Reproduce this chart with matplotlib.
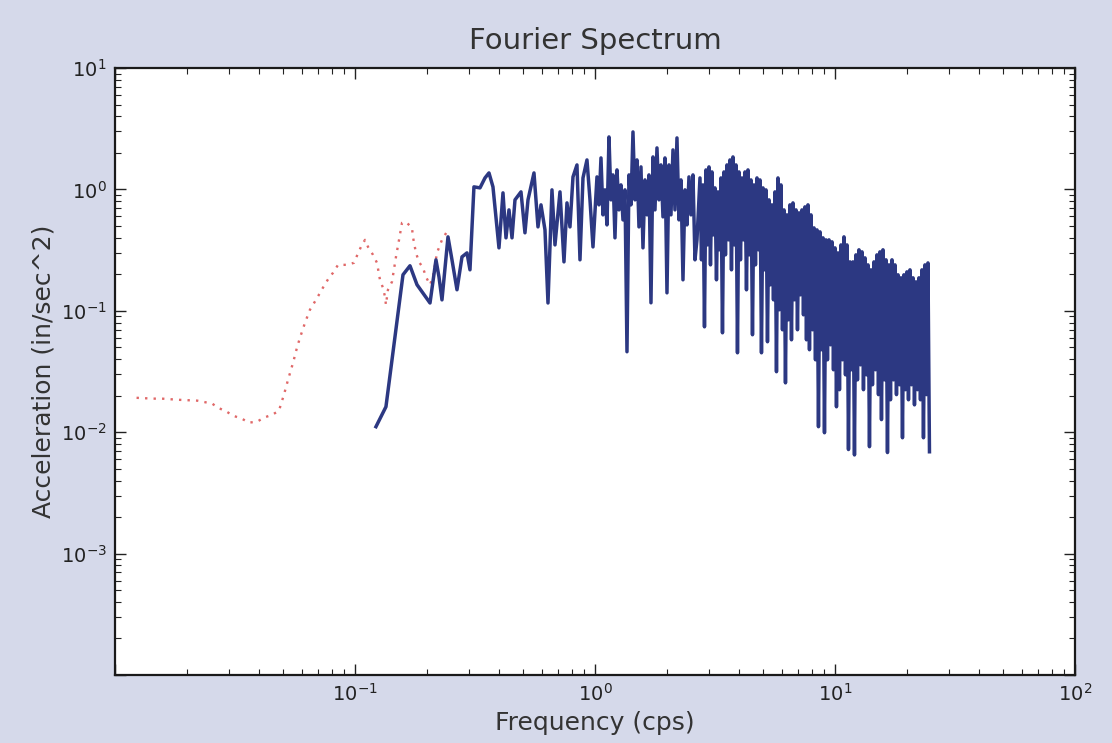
import matplotlib
matplotlib.use('Agg')
import matplotlib.pyplot as plt
from matplotlib.ticker import LogLocator, NullFormatter

# Smoothed (red dotted) spectrum
red_freq = [0.0123, 0.0144, 0.0157, 0.0183, 0.0220, 0.0254, 0.0269, 0.0293, 0.0310, 0.0338,
            0.0362, 0.0391, 0.0418, 0.0451, 0.0482, 0.0506, 0.0526, 0.0552, 0.0573, 0.0590,
            0.0619, 0.0649, 0.0688, 0.0715, 0.0743, 0.0779, 0.0810, 0.0850, 0.0926, 0.0990,
            0.1019, 0.1059, 0.1101, 0.1133, 0.1189, 0.1235, 0.1271, 0.1308, 0.1334, 0.1346,
            0.1372, 0.1426, 0.1482, 0.1526, 0.1570, 0.1631, 0.1728, 0.1744, 0.1795, 0.1848,
            0.1920, 0.1976, 0.2054, 0.2113, 0.2196, 0.2304, 0.2441]
red_amp = [0.0192, 0.0189, 0.0189, 0.0185, 0.0182, 0.0172, 0.0159, 0.0147, 0.0137, 0.0129,
           0.0120, 0.0122, 0.0132, 0.0139, 0.0150, 0.0204, 0.0270, 0.0373, 0.0496, 0.0600,
           0.0796, 0.1019, 0.1232, 0.1406, 0.1606, 0.1869, 0.2055, 0.2391, 0.2391, 0.2484,
           0.2836, 0.3363, 0.3840, 0.3363, 0.2890, 0.2484, 0.1800, 0.1546, 0.1304, 0.1121,
           0.1489, 0.1732, 0.2782, 0.3840, 0.530, 0.540, 0.482, 0.4065, 0.300, 0.253,
           0.226, 0.1905, 0.1637, 0.1905, 0.300, 0.384, 0.464]

# Raw Fourier amplitude spectrum (blue), low-frequency part
blue_freq_low = [0.1223, 0.1346, 0.1585, 0.1695, 0.1813, 0.2054, 0.2175, 0.2239, 0.2304, 0.2441,
                 0.2536, 0.2661, 0.2792, 0.2929, 0.3014, 0.3131, 0.3318, 0.3481, 0.3617, 0.3758,
                 0.3981, 0.4137, 0.4258, 0.4382, 0.4511, 0.4642, 0.4917, 0.5108, 0.5259, 0.5570,
                 0.5788, 0.5957, 0.6190, 0.6371, 0.6619, 0.6813, 0.7148, 0.7427, 0.7644, 0.7867,
                 0.8098, 0.8414, 0.8660, 0.8913, 0.9261, 0.9532, 0.9810]
blue_amp_low = [0.0111, 0.0162, 0.198, 0.235, 0.164, 0.116, 0.263, 0.190, 0.123, 0.4065,
                0.263, 0.149, 0.278, 0.300, 0.2175, 1.049, 1.029, 1.243, 1.367, 1.049,
                0.330, 0.936, 0.399, 0.678, 0.399, 0.820, 0.954, 0.439, 0.820, 1.367,
                0.491, 0.746, 0.464, 0.116, 0.991, 0.349, 0.954, 0.253, 0.774, 0.491,
                1.267, 1.591, 0.263, 1.243, 1.749, 0.820, 0.336]

# mid part (1 - 2.7 cps)
blue_freq_mid = [1.0194, 1.0391, 1.0593, 1.0798, 1.1007, 1.1220, 1.1438, 1.1659, 1.1885, 1.2115,
                 1.2350, 1.2589, 1.2833, 1.3082, 1.3335, 1.3594, 1.3857, 1.4125, 1.4399, 1.4678,
                 1.4962, 1.5252, 1.5548, 1.5849, 1.6156, 1.6469, 1.6788, 1.7113, 1.7445, 1.7783,
                 1.8127, 1.8478, 1.8836, 1.9201, 1.9573, 1.9953, 2.0339, 2.0733, 2.1135, 2.1544,
                 2.1961, 2.2387, 2.2820, 2.3263, 2.3714, 2.4173, 2.4641, 2.5119, 2.5605, 2.6102,
                 2.6607]
blue_amp_mid = [1.267, 0.746, 1.816, 0.617, 0.991, 0.510, 2.704, 0.820, 1.316, 0.399,
                1.447, 0.678, 1.089, 0.561, 0.991, 0.046, 1.316, 0.746, 2.973, 0.820,
                1.749, 0.491, 1.532, 0.330, 1.197, 0.617, 1.316, 0.1164, 1.851, 0.678,
                2.196, 0.820, 1.591, 0.594, 1.816, 0.1406, 1.591, 0.617, 2.114, 0.678,
                2.654, 0.561, 1.197, 0.180, 0.991, 0.510, 1.267, 0.617, 1.316, 0.263,
                0.384]

# high part (2.7 - 25 cps)
blue_freq_high = [2.7384, 2.7781,
                  2.8184, 2.8593, 2.9007, 2.9427, 2.9854, 3.0287, 3.0726, 3.1171,
                  3.1623, 3.2081, 3.2546, 3.3018, 3.3497, 3.3982, 3.4475, 3.4974,
                  3.5481, 3.5996, 3.6517, 3.7046, 3.7584, 3.8128, 3.8681, 3.9241,
                  3.9811, 4.0388, 4.0973, 4.1567, 4.2170, 4.2781, 4.3401, 4.4030,
                  4.4668, 4.5316, 4.5972, 4.6639, 4.7315, 4.8000, 4.8696, 4.9402,
                  5.0119, 5.0845, 5.1582, 5.2330, 5.3088, 5.3858, 5.4638, 5.5430,
                  5.6234, 5.7049, 5.7876, 5.8715, 5.9566, 6.0429, 6.1305, 6.2193,
                  6.3096, 6.4011, 6.4938, 6.5880, 6.6834, 6.7803, 6.8786, 6.9783,
                  7.0795, 7.1821, 7.2862, 7.3918, 7.4989, 7.6076, 7.7179, 7.8297,
                  7.9433, 8.0585, 8.1753, 8.2937, 8.4140, 8.5359, 8.6596, 8.7852,
                  8.9125, 9.0417, 9.1728, 9.3057, 9.4406, 9.5774, 9.7162, 9.8571,
                  10.000, 10.145, 10.292, 10.441, 10.593, 10.746, 10.902, 11.060,
                  11.220, 11.383, 11.548, 11.715, 11.885, 12.057, 12.232, 12.409,
                  12.589, 12.772, 12.957, 13.144, 13.335, 13.528, 13.724, 13.923,
                  14.125, 14.330, 14.538, 14.748, 14.962, 15.179, 15.399, 15.622,
                  15.849, 16.079, 16.312, 16.548, 16.788, 17.032, 17.278, 17.529,
                  17.783, 18.041, 18.302, 18.568, 18.837, 19.110, 19.387, 19.668,
                  19.953, 20.242, 20.535, 20.833, 21.135, 21.441, 21.752, 22.067,
                  22.387, 22.711, 23.040, 23.374, 23.713, 24.057, 24.405, 24.759]
blue_amp_high = [1.243, 0.263,
                 1.089, 0.0738, 1.447, 0.349, 1.532, 0.239, 1.393, 0.422,
                 1.029, 0.180, 0.954, 0.318, 1.243, 0.0659, 1.393, 0.289,
                 1.591, 0.384, 1.749, 0.2175, 1.851, 0.349, 1.591, 0.0451,
                 1.393, 0.263, 1.243, 0.384, 1.393, 0.1489, 1.447, 0.289,
                 1.197, 0.0635, 1.089, 0.239, 1.243, 0.318, 1.197, 0.0451,
                 1.029, 0.2175, 0.991, 0.0556, 0.820, 0.1637, 0.746, 0.1232,
                 0.954, 0.0315, 1.243, 0.102, 1.089, 0.0698, 0.678, 0.0255,
                 0.617, 0.0843, 0.746, 0.0577, 0.774, 0.1232, 0.678, 0.0698,
                 0.641, 0.1354, 0.678, 0.0927, 0.718, 0.0577, 0.746, 0.0478,
                 0.617, 0.0698, 0.482, 0.0395, 0.464, 0.0111, 0.447, 0.0478,
                 0.399, 0.0099, 0.384, 0.0395, 0.384, 0.0525, 0.370, 0.0327,
                 0.330, 0.0162, 0.300, 0.0224, 0.349, 0.0395, 0.4065, 0.0297,
                 0.349, 0.0072, 0.253, 0.0327, 0.253, 0.0065, 0.289, 0.0270,
                 0.318, 0.0359, 0.306, 0.0224, 0.273, 0.0297, 0.239, 0.0076,
                 0.2175, 0.0246, 0.253, 0.0327, 0.289, 0.0204, 0.306, 0.0127,
                 0.318, 0.0270, 0.263, 0.0068, 0.239, 0.0185, 0.263, 0.0270,
                 0.239, 0.0204, 0.198, 0.0246, 0.187, 0.0090, 0.198, 0.0224,
                 0.2094, 0.0185, 0.2175, 0.0246, 0.187, 0.0168, 0.1732, 0.0224,
                 0.187, 0.0185, 0.2175, 0.0090, 0.239, 0.0204, 0.248, 0.0069]

blue_freq = blue_freq_low + blue_freq_mid + blue_freq_high
blue_amp = blue_amp_low + blue_amp_mid + blue_amp_high

x_ticks = [1e-2, 1e-1, 1e0, 1e1, 1e2]
x_labels = ['', '$10^{-1}$', '$10^{0}$', '$10^{1}$', '$10^{2}$']
y_ticks = [1e-4, 1e-3, 1e-2, 1e-1, 1e0, 1e1]
y_labels = ['', '$10^{-3}$', '$10^{-2}$', '$10^{-1}$', '$10^{0}$', '$10^{1}$']

plt.rcParams['font.family'] = ['DejaVu Sans']
plt.rcParams['mathtext.default'] = 'regular'

fig = plt.figure(figsize=(11.12, 7.43), dpi=100, facecolor='#d5d9ea')
ax = fig.add_axes([0.1034, 0.0915, 0.8633, 0.8170])
ax.set_facecolor('white')

ax.plot(red_freq, red_amp, color='#e06868', lw=1.7, linestyle=(0, (1, 2.6)))
ax.plot(blue_freq, blue_amp, color='#2c3882', lw=2.5)

ax.set_xscale('log')
ax.set_yscale('log')
ax.set_xlim(1e-2, 1e2)
ax.set_ylim(1e-4, 1e1)

ax.set_xticks(x_ticks)
ax.set_xticklabels(x_labels)
ax.set_yticks(y_ticks)
ax.set_yticklabels(y_labels)
ax.xaxis.set_minor_locator(LogLocator(base=10, subs=range(2, 10), numticks=20))
ax.yaxis.set_minor_locator(LogLocator(base=10, subs=range(2, 10), numticks=20))
ax.xaxis.set_minor_formatter(NullFormatter())
ax.yaxis.set_minor_formatter(NullFormatter())

ax.tick_params(which='both', direction='in', top=True, right=True, colors='#222222')
ax.tick_params(which='major', length=8, width=1, labelsize=14, pad=6)
ax.tick_params(which='minor', length=4, width=0.8)
for s in ax.spines.values():
    s.set_linewidth(1.6)
    s.set_color('#1a1a1a')

ax.set_title('Fourier Spectrum', fontsize=21, color='#333333', pad=14)
ax.set_xlabel('Frequency (cps)', fontsize=18, color='#333333', labelpad=4)
ax.set_ylabel('Acceleration (in/sec^2)', fontsize=18, color='#333333', labelpad=4)

fig.savefig('out.png', dpi=100, facecolor=fig.get_facecolor())
